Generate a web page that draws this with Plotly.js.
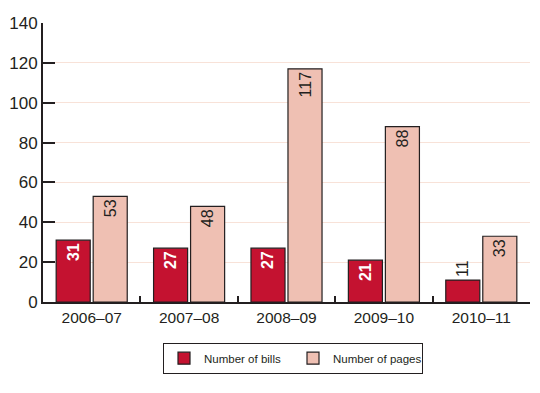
<!DOCTYPE html>
<html><head><meta charset="utf-8">
<script src="https://cdn.plot.ly/plotly-3.0.1.min.js"></script>
<style>html,body{margin:0;padding:0;background:#fff}#chart{width:540px;height:393px}</style>
</head><body><div id="chart"></div>
<script>
const categories = ['2006–07','2007–08','2008–09','2009–10','2010–11'];
const bills = [31, 27, 27, 21, 11];
const pages = [53, 48, 117, 88, 33];
const yTicks = [0,20,40,60,80,100,120,140];

const ink = '#231F20';
const narrow = '"Liberation Sans Narrow", "Arial Narrow", Arial, sans-serif';
const sans = '"Liberation Sans", Arial, sans-serif';

const traces = [
  {type:'bar', name:'Number of bills', x:categories, y:bills,
   marker:{color:'#C41230', line:{color:ink, width:1.2}},
   text:bills.map(String), textangle:-90,
   textposition:bills.map(v => v < 15 ? 'outside' : 'inside'),
   insidetextanchor:'end', constraintext:'none', cliponaxis:false,
   insidetextfont:{family:sans, size:16, color:'#ffffff', weight:'bold'},
   outsidetextfont:{family:sans, size:16, color:ink},
   hoverinfo:'skip'},
  {type:'bar', name:'Number of pages', x:categories, y:pages,
   marker:{color:'#EFC0B3', line:{color:ink, width:1.2}},
   text:pages.map(String), textangle:-90,
   textposition:'inside', insidetextanchor:'end', constraintext:'none',
   insidetextfont:{family:sans, size:16, color:ink},
   hoverinfo:'skip'}
];

const layout = {
  width:540, height:393,
  margin:{l:43, r:10, t:23, b:91},
  paper_bgcolor:'#fff', plot_bgcolor:'#fff',
  bargap:0.24, bargroupgap:0.08,
  showlegend:true,
  font:{family:narrow, color:ink},
  xaxis:{type:'category', showline:true, linecolor:ink, linewidth:2,
         ticks:'inside', tickson:'boundaries', ticklen:6, tickwidth:2, tickcolor:ink,
         tickfont:{family:narrow, size:15.5, color:ink}, showgrid:false, zeroline:false, fixedrange:true},
  yaxis:{range:[0,140], tickvals:yTicks, showline:true, linecolor:ink, linewidth:2,
         ticks:'inside', ticklen:12, tickwidth:2, tickcolor:ink,
         tickfont:{family:narrow, size:17, color:ink},
         showgrid:true, gridcolor:'#F8E2D8', gridwidth:1, zeroline:false, fixedrange:true},
  legend:{orientation:'h', xref:'container', yref:'container', x:0.5426, xanchor:'center',
          y:0.128, yanchor:'top', bordercolor:ink, borderwidth:1, bgcolor:'#fff',
          font:{family:narrow, size:11.5, color:ink}, entrywidth:84, itemwidth:30,
          traceorder:'normal'}
};

Plotly.newPlot('chart', traces, layout, {displayModeBar:false, staticPlot:true});
</script></body></html>
